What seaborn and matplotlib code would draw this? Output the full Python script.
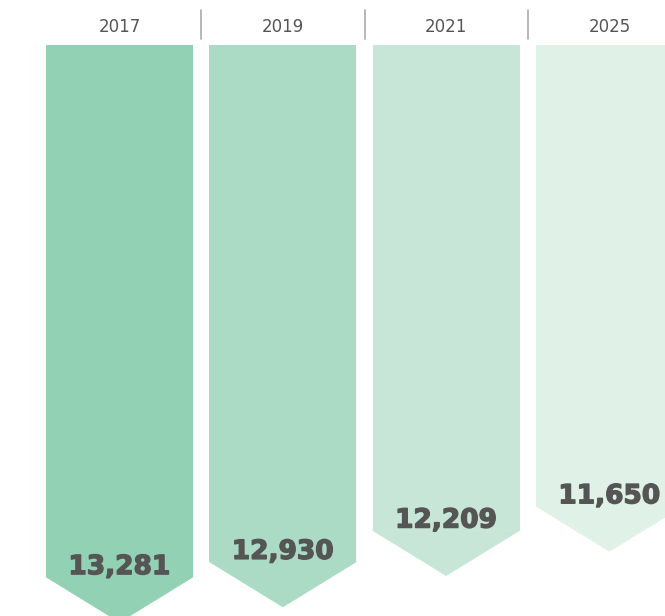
import pandas as pd
import seaborn as sns
import matplotlib.pyplot as plt
import matplotlib.patheffects as pe

years = ['2017', '2019', '2021', '2025']
totals = [13281, 12930, 12209, 11650]
colors = ['#93d1b4', '#acdbc5', '#c8e6d7', '#e0f1e8']

HEAD = 1040   # depth of the arrow point, in value units
BAR_W = 0.9

sns.set_theme(style='white')

fig = plt.figure(figsize=(6.65, 6.16), dpi=100)
ax = fig.add_axes([0, 0, 1, 1])

df = pd.DataFrame({'year': years, 'total': totals})
df['body'] = df['total'] - HEAD

sns.barplot(data=df, x='year', y='body', hue='year', palette=colors,
            width=BAR_W, saturation=1, legend=False, ax=ax, linewidth=0)

heavy = [pe.withStroke(linewidth=1.0, foreground='#555555')]
for i, (total, color) in enumerate(zip(totals, colors)):
    xl, xr = i - BAR_W / 2, i + BAR_W / 2
    # arrow point under each bar
    ax.fill([xl, xr, i], [total - HEAD, total - HEAD, total],
            facecolor=color, edgecolor=color, lw=0.8, clip_on=False)
    ax.text(i, total - 1100, f'{total:,}', ha='center', va='baseline',
            fontsize=19, fontweight='bold', color='#555555',
            path_effects=heavy)
    ax.text(i, -414, years[i], ha='center', va='center',
            fontsize=12, color='#555555')
    if i:
        ax.plot([i - 0.5, i - 0.5], [-806, -138], color='#aaaaaa', lw=1.2)

ax.set_xlim(-0.732, 3.34)
ax.set_ylim(13145, -1036)
ax.axis('off')

fig.savefig('out.png', dpi=100)
